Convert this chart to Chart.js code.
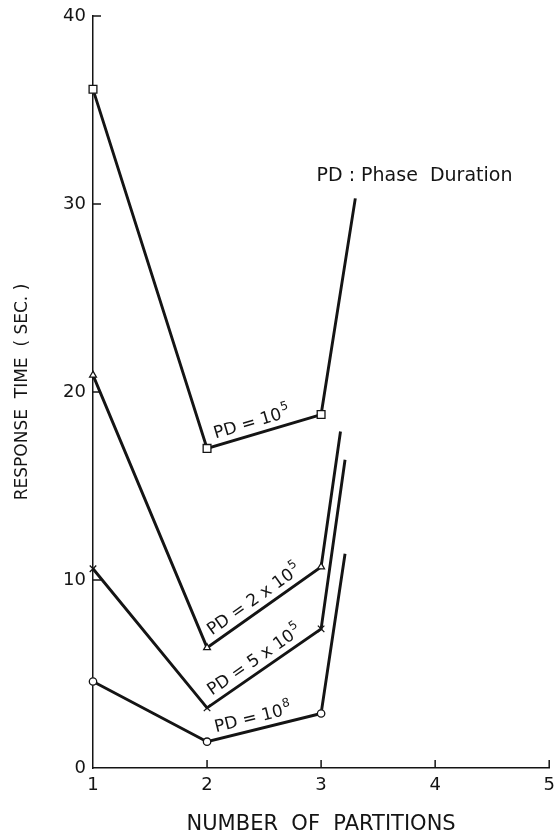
<!DOCTYPE html>
<html><head><meta charset="utf-8">
<script src="https://cdn.jsdelivr.net/npm/chart.js@4.4.1/dist/chart.umd.min.js"></script>
<style>html,body{margin:0;padding:0;background:#fff;}#wrap{width:556px;height:835px;}</style>
</head><body><div id="wrap"><canvas id="c" width="556" height="835"></canvas></div>
<script>
// ---- data ----
const partitions = [1, 2, 3];
const pd1e5 = [36.1, 17.0, 18.8];
const pd2e5 = [20.9, 6.4, 10.7];
const pd5e5 = [10.6, 3.2, 7.4];
const pd1e8 = [4.6, 1.4, 2.9];
// unmarked rising tails beyond 3 partitions
const tailX = [3.30, 3.17, 3.21, 3.21];
const tailY = [30.3, 17.9, 16.4, 11.4];
const xTicks = [1, 2, 3, 4, 5];
const yTicks = [0, 10, 20, 30, 40];
const labelBase = ['PD = 10', 'PD = 2 x 10', 'PD = 5 x 10', 'PD = 10'];
const labelSup = ['5', '5', '5', '8'];
const noteText = 'PD : Phase  Duration';
const xTitle = 'NUMBER  OF  PARTITIONS';
const yTitle = 'RESPONSE  TIME  ( SEC. )';

const INK = '#141414';
const FONT = '"DejaVu Sans", sans-serif';
const series = [pd1e5, pd2e5, pd5e5, pd1e8];
const markers = ['rect', 'triangle', 'crossRot', 'circle'];
const radii = [5.5, 3.9, 4.6, 3.7];

const datasets = series.map((vals, k) => ({
  label: labelBase[k] + labelSup[k],
  data: partitions.map((x, i) => ({x: x, y: vals[i]})).concat([{x: tailX[k], y: tailY[k]}]),
  borderColor: INK,
  borderWidth: 2.9,
  tension: 0,
  fill: false,
  clip: false,
  pointStyle: markers[k],
  pointRadius: [radii[k], radii[k], radii[k], 0],
  pointHoverRadius: [radii[k], radii[k], radii[k], 0],
  pointBackgroundColor: '#ffffff',
  pointBorderColor: INK,
  pointBorderWidth: 1.3
}));

const innerTicks = {
  id: 'innerTicks',
  afterDraw(chart) {
    const ctx = chart.ctx, xs = chart.scales.x, ys = chart.scales.y;
    const a = chart.chartArea;
    ctx.save();
    ctx.strokeStyle = INK;
    ctx.lineWidth = 1.5;
    xTicks.slice(1).forEach(v => {
      const px = xs.getPixelForValue(v);
      ctx.beginPath(); ctx.moveTo(px, a.bottom); ctx.lineTo(px, a.bottom - 8); ctx.stroke();
    });
    yTicks.slice(1).forEach(v => {
      const py = ys.getPixelForValue(v);
      ctx.beginPath(); ctx.moveTo(a.left, py); ctx.lineTo(a.left + 8, py); ctx.stroke();
    });
    ctx.restore();
  }
};

const annotations = {
  id: 'annotations',
  afterDatasetsDraw(chart) {
    const ctx = chart.ctx;
    chart.data.datasets.forEach((ds, i) => {
      const meta = chart.getDatasetMeta(i);
      const p = meta.data[1], q = meta.data[2];
      const ang = Math.atan2(q.y - p.y, q.x - p.x);
      ctx.save();
      ctx.translate(p.x, p.y);
      ctx.rotate(ang);
      ctx.fillStyle = INK;
      ctx.textAlign = 'left';
      ctx.textBaseline = 'alphabetic';
      ctx.font = '17px ' + FONT;
      const d = 11, h = 7;
      ctx.fillText(labelBase[i], d, -h);
      const w = ctx.measureText(labelBase[i]).width;
      ctx.font = '12px ' + FONT;
      ctx.fillText(labelSup[i], d + w + 1, -h - 8);
      ctx.restore();
    });
    const xs = chart.scales.x, ys = chart.scales.y;
    ctx.save();
    ctx.fillStyle = INK;
    ctx.font = '19px ' + FONT;
    ctx.textAlign = 'left';
    ctx.textBaseline = 'middle';
    ctx.fillText(noteText, xs.getPixelForValue(2.96), ys.getPixelForValue(31.5));
    ctx.restore();
  }
};

new Chart(document.getElementById('c'), {
  type: 'line',
  data: {datasets: datasets},
  options: {
    responsive: false,
    animation: false,
    events: [],
    layout: {padding: {top: 16, right: 4, left: 0, bottom: 0}},
    plugins: {legend: {display: false}, tooltip: {enabled: false}},
    scales: {
      x: {
        type: 'linear', min: 1, max: 5,
        afterBuildTicks: s => { s.ticks = xTicks.map(v => ({value: v})); },
        afterFit: s => { s.height = 67; s.paddingLeft = 0; s.paddingRight = 0; },
        ticks: {color: INK, font: {family: FONT, size: 18}, padding: 7, maxRotation: 0, autoSkip: false},
        grid: {display: true, drawOnChartArea: false, drawTicks: false},
        border: {display: true, color: INK, width: 1.5},
        title: {display: true, text: xTitle, color: INK, font: {family: FONT, size: 21, lineHeight: 1}, padding: {top: 0, bottom: 0}}
      },
      y: {
        type: 'linear', min: 0, max: 40,
        afterBuildTicks: s => { s.ticks = yTicks.map(v => ({value: v})); },
        afterFit: s => { s.width = 93; s.paddingTop = 0; s.paddingBottom = 0; },
        ticks: {color: INK, font: {family: FONT, size: 18}, padding: 7},
        grid: {display: true, drawOnChartArea: false, drawTicks: false},
        border: {display: true, color: INK, width: 1.5},
        title: {display: true, text: yTitle, color: INK, font: {family: FONT, size: 17}, padding: {top: 12, bottom: 0}}
      }
    }
  },
  plugins: [innerTicks, annotations]
});
</script>
</body></html>
